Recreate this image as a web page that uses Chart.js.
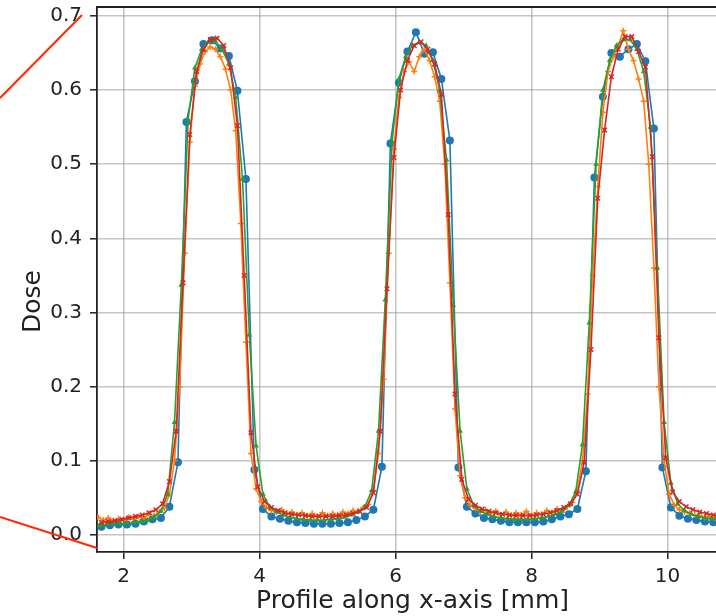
<!DOCTYPE html>
<html>
<head>
<meta charset="utf-8">
<title>Dose profile</title>
<script src="https://cdn.jsdelivr.net/npm/chart.js@4.4.1/dist/chart.umd.min.js"></script>
<style>
  html, body { margin: 0; padding: 0; background: #fff; overflow: hidden; }
  #wrap { position: relative; width: 760px; height: 616px; }
</style>
</head>
<body>
<div id="wrap"><canvas id="doseChart" width="760" height="616"></canvas></div>
<script>
// Sampling grids (start position and bin width in mm) for each profile
const blueStart = 1.675, blueStep = 0.125;
const orangeStart = 1.625, orangeStep = 0.075;
const greenStart = 1.65, greenStep = 0.1;
const redStart = 1.675, redStep = 0.1;

// Dose values along x
const blueDose = [
  0.011, 0.013, 0.014, 0.014, 0.015, 0.018, 0.021, 0.023, 0.038, 0.098,
  0.557, 0.612, 0.662, 0.667, 0.656, 0.646, 0.599, 0.480, 0.088, 0.035,
  0.025, 0.022, 0.019, 0.017, 0.016, 0.015, 0.015, 0.015, 0.016, 0.017,
  0.020, 0.025, 0.034, 0.092, 0.528, 0.610, 0.652, 0.678, 0.649, 0.651,
  0.615, 0.532, 0.091, 0.038, 0.029, 0.023, 0.021, 0.019, 0.017, 0.017,
  0.017, 0.017, 0.018, 0.021, 0.025, 0.028, 0.035, 0.086, 0.482, 0.591,
  0.650, 0.645, 0.655, 0.662, 0.639, 0.548, 0.091, 0.037, 0.026, 0.022,
  0.020, 0.018, 0.017, 0.016
];

const orangeDose = [
  0.024, 0.020, 0.023, 0.019, 0.022, 0.020, 0.024, 0.021, 0.025, 0.023, 0.028, 0.026, 0.031, 0.036,
  0.055, 0.100, 0.200, 0.380, 0.530, 0.605, 0.635, 0.652, 0.658, 0.655,
  0.645, 0.628, 0.600, 0.545, 0.420, 0.260, 0.110, 0.062, 0.045, 0.037,
  0.033, 0.031, 0.034, 0.028, 0.031, 0.027, 0.030, 0.026, 0.029, 0.025,
  0.030, 0.026, 0.029, 0.027, 0.031, 0.029, 0.033, 0.032, 0.037, 0.041,
  0.060, 0.110, 0.210, 0.380, 0.520, 0.590, 0.625, 0.638, 0.625, 0.645,
  0.655, 0.640, 0.618, 0.585, 0.500, 0.340, 0.170, 0.080, 0.050, 0.040,
  0.036, 0.031, 0.034, 0.029, 0.032, 0.027, 0.031, 0.026, 0.030, 0.027,
  0.032, 0.026, 0.030, 0.028, 0.033, 0.030, 0.035, 0.033, 0.038, 0.044,
  0.060, 0.100, 0.190, 0.350, 0.470, 0.570, 0.625, 0.645, 0.660, 0.680,
  0.655, 0.640, 0.615, 0.585, 0.500, 0.360, 0.200, 0.100, 0.055, 0.040,
  0.034, 0.031, 0.029, 0.027, 0.026, 0.024, 0.025, 0.023, 0.024
];

const greenDose = [
  0.013, 0.014, 0.015, 0.015, 0.016, 0.017, 0.018, 0.020, 0.024, 0.032,
  0.055, 0.152, 0.337, 0.560, 0.630, 0.655, 0.665, 0.666, 0.655, 0.635,
  0.590, 0.480, 0.270, 0.120, 0.055, 0.038, 0.031, 0.027, 0.024, 0.022,
  0.021, 0.020, 0.020, 0.020, 0.021, 0.022, 0.024, 0.027, 0.031, 0.038,
  0.060, 0.140, 0.317, 0.530, 0.615, 0.645, 0.660, 0.665, 0.660, 0.640,
  0.600, 0.506, 0.310, 0.140, 0.062, 0.040, 0.032, 0.028, 0.025, 0.023,
  0.022, 0.021, 0.021, 0.021, 0.022, 0.023, 0.025, 0.028, 0.032, 0.040,
  0.058, 0.122, 0.286, 0.500, 0.600, 0.640, 0.660, 0.668, 0.668, 0.655,
  0.625, 0.550, 0.360, 0.152, 0.070, 0.042, 0.033, 0.028, 0.025, 0.023,
  0.022, 0.021
];

const redDose = [
  0.017, 0.018, 0.019, 0.021, 0.023, 0.025, 0.027, 0.030, 0.034, 0.042,
  0.072, 0.140, 0.340, 0.540, 0.625, 0.655, 0.668, 0.670, 0.660, 0.630,
  0.552, 0.350, 0.138, 0.065, 0.045, 0.037, 0.033, 0.030, 0.028, 0.027,
  0.026, 0.025, 0.025, 0.025, 0.025, 0.026, 0.027, 0.029, 0.032, 0.037,
  0.057, 0.140, 0.332, 0.509, 0.600, 0.640, 0.660, 0.665, 0.655, 0.635,
  0.594, 0.432, 0.190, 0.075, 0.048, 0.040, 0.035, 0.032, 0.030, 0.028,
  0.027, 0.026, 0.026, 0.026, 0.027, 0.028, 0.030, 0.033, 0.037, 0.042,
  0.055, 0.098, 0.250, 0.454, 0.546, 0.618, 0.655, 0.672, 0.672, 0.652,
  0.631, 0.510, 0.266, 0.104, 0.058, 0.045, 0.038, 0.034, 0.031, 0.029,
  0.027, 0.026
];

// Axis ticks
const xTicks = [2, 4, 6, 8, 10];
const yTicks = [0.0, 0.1, 0.2, 0.3, 0.4, 0.5, 0.6, 0.7];

function toPoints(start, step, values) {
  return values.map((y, i) => ({ x: +(start + i * step).toFixed(4), y: y }));
}

const FONT = "'DejaVu Sans', 'Liberation Sans', sans-serif";
const INK = '#222222';

// top/right frame, the "Dose" axis label and the two red guide lines on the left
const framePlugin = {
  id: 'frame',
  afterDraw(chart) {
    const ctx = chart.ctx;
    const a = chart.chartArea;
    ctx.save();
    ctx.strokeStyle = INK;
    ctx.lineWidth = 1.8;
    ctx.beginPath();
    ctx.moveTo(a.left, a.top);
    ctx.lineTo(a.right, a.top);
    ctx.lineTo(a.right, a.bottom);
    ctx.stroke();

    // y label sits a little below the middle of the axis
    ctx.fillStyle = INK;
    ctx.font = '25px ' + FONT;
    ctx.textAlign = 'center';
    ctx.textBaseline = 'alphabetic';
    ctx.translate(40, (a.top + a.bottom) / 2 + 22);
    ctx.rotate(-Math.PI / 2);
    ctx.fillText('Dose', 0, 0);
    ctx.setTransform(1, 0, 0, 1, 0, 0);

    ctx.strokeStyle = '#ff2a00';
    ctx.lineWidth = 2;
    ctx.beginPath();
    ctx.moveTo(a.left - 15, a.top + 8);
    ctx.lineTo(0, a.top + 91);
    ctx.moveTo(0, a.bottom - 35);
    ctx.lineTo(a.left, a.bottom - 4);
    ctx.stroke();
    ctx.restore();
  }
};

function series(label, color, start, step, values, style, radius, order) {
  return {
    label: label,
    data: toPoints(start, step, values),
    borderColor: color,
    backgroundColor: color,
    borderWidth: 1.6,
    pointStyle: style,
    pointRadius: radius,
    pointBorderWidth: style === 'circle' ? 0 : 1.5,
    pointBorderColor: color,
    pointBackgroundColor: color,
    tension: 0,
    order: order
  };
}

new Chart(document.getElementById('doseChart'), {
  type: 'line',
  data: {
    datasets: [
      series('blue', '#1f77b4', blueStart, blueStep, blueDose, 'circle', 4, 4),
      series('orange', '#ff7f0e', orangeStart, orangeStep, orangeDose, 'cross', 3, 3),
      series('green', '#2ca02c', greenStart, greenStep, greenDose, 'triangle', 1.8, 2),
      series('red', '#d62728', redStart, redStep, redDose, 'crossRot', 3.2, 1)
    ]
  },
  options: {
    responsive: false,
    animation: false,
    devicePixelRatio: 1,
    layout: { padding: { top: 7, right: 32, bottom: 0, left: 0 } },
    plugins: {
      legend: { display: false },
      tooltip: { enabled: false }
    },
    scales: {
      x: {
        type: 'linear',
        min: 1.61,
        max: 10.89,
        afterFit: s => {
          s.height = 64;
          s.paddingLeft = 0;
          s.paddingRight = 0;
        },
        afterBuildTicks: s => { s.ticks = xTicks.map(v => ({ value: v })); },
        ticks: {
          color: INK,
          font: { family: FONT, size: 20 },
          padding: 6,
          maxRotation: 0,
          callback: v => String(v)
        },
        grid: {
          color: 'rgba(150,150,150,0.55)',
          lineWidth: 1.6,
          tickLength: 7,
          tickColor: INK,
          tickWidth: 1.5
        },
        border: { display: true, color: INK, width: 1.8 },
        title: {
          display: true,
          text: 'Profile along x-axis [mm]',
          color: INK,
          font: { family: FONT, size: 25 },
          padding: { top: 0, bottom: 0 }
        }
      },
      y: {
        min: -0.023,
        max: 0.712,
        afterFit: s => {
          s.width = 97;
          s.paddingTop = 0;
          s.paddingBottom = 0;
        },
        afterBuildTicks: s => { s.ticks = yTicks.map(v => ({ value: v })); },
        ticks: {
          color: INK,
          font: { family: FONT, size: 20 },
          padding: 8,
          callback: v => v.toFixed(1)
        },
        grid: {
          color: 'rgba(150,150,150,0.55)',
          lineWidth: 1.6,
          tickLength: 7,
          tickColor: INK,
          tickWidth: 1.5
        },
        border: { display: true, color: INK, width: 1.8 }
      }
    }
  },
  plugins: [framePlugin]
});
</script>
</body>
</html>
